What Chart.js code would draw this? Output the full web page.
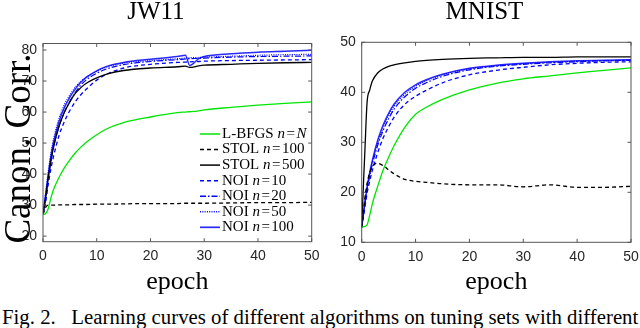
<!DOCTYPE html>
<html><head><meta charset="utf-8">
<script src="https://cdn.jsdelivr.net/npm/chart.js@4.4.1/dist/chart.umd.min.js"></script>
<style>
html,body{margin:0;padding:0;background:#fff;width:640px;height:328px;overflow:hidden;}
#c1{position:absolute;left:0;top:0;}
#c2{position:absolute;left:338px;top:0;}
#cap{position:absolute;left:2px;top:305.8px;white-space:nowrap;font-family:"Liberation Serif";font-size:20.8px;line-height:21px;color:#000;}
</style></head><body>
<canvas id="c1" width="320" height="300"></canvas>
<canvas id="c2" width="302" height="300"></canvas>
<div id="cap">Fig. 2.&nbsp;&nbsp;&nbsp;Learning curves of different algorithms on tuning sets with different</div>
<script>
// ---- data ----
const xTicks = [0, 10, 20, 30, 40, 50];
const jwYTicks = [20, 30, 40, 50, 60, 70, 80];
const mnYTicks = [10, 20, 30, 40, 50];

const legendNames = ['L-BFGS', 'STOL', 'STOL', 'NOI', 'NOI', 'NOI', 'NOI'];
const legendN = ['N', '100', '500', '10', '20', '50', '100'];

const jwEpochs = [0, 0.5, 1, 1.5, 2, 3, 4, 5, 6, 7, 8, 10, 12, 15, 20, 25, 26.5, 27.3, 29, 30, 35, 40, 45, 50];
const jwLbfgs  = [27, 27.3, 29, 32.5, 35.2, 39, 42.1, 44.6, 46.8, 48.6, 50.2, 52.7, 54.7, 56.6, 58.4, 59.8, 60.0, 60.1, 60.4, 60.7, 61.5, 62.2, 62.8, 63.3];
const jwStol100 = [27, 29.3, 30, 30, 30, 30.1, 30.1, 30.1, 30.2, 30.2, 30.2, 30.3, 30.3, 30.4, 30.5, 30.5, 30.6, 30.6, 30.6, 30.6, 30.7, 30.8, 30.8, 30.9];
const jwStol500 = [27, 32.5, 39, 44.5, 49, 55.5, 60, 63.3, 66, 67.8, 69.2, 71, 72.3, 73.4, 74.2, 74.6, 74.8, 74.4, 74.9, 75.1, 75.4, 75.7, 75.9, 76.0];
const jwNoi10  = [27, 31, 37, 42, 46, 52.5, 57, 60.5, 63.3, 65.5, 67.3, 70.3, 72.3, 74.2, 75.4, 76.0, 76.1, 76.2, 76.3, 76.4, 76.6, 76.7, 76.8, 76.9];
const jwNoi20  = [27, 32.5, 39, 44.5, 49, 55.5, 60, 63.5, 66.3, 68.6, 70.3, 72.5, 74, 75.3, 76.3, 76.9, 77.1, 77.2, 77.3, 77.4, 77.7, 77.9, 78.0, 78.1];
const jwNoi50  = [27, 34, 41, 47, 51.5, 58, 62.5, 65.5, 68, 69.8, 71.2, 73.2, 74.6, 75.8, 76.6, 77.2, 77.4, 77.5, 77.6, 77.7, 78.0, 78.3, 78.5, 78.6];
const jwNoi100 = [27, 33.5, 40, 46, 50.5, 57, 61.5, 64.8, 67.4, 69.5, 71.1, 73.3, 74.8, 76.0, 77.0, 77.9, 78.3, 75.0, 77.2, 77.9, 78.8, 79.3, 79.6, 79.9];

const mnEpochs = [0, 0.3, 0.6, 1, 1.5, 2, 3, 4, 5, 6, 8, 10, 12, 15, 20, 25, 30, 35, 40, 45, 50];
const mnLbfgs  = [13, 13.1, 13.2, 13.5, 15.5, 17.8, 21.3, 24.5, 27, 29.3, 33, 35.6, 37, 38.6, 40.5, 41.8, 42.7, 43.3, 43.9, 44.4, 44.9];
const mnStol100 = [13, 16, 19, 21.8, 24, 25.2, 25.8, 25.3, 24.5, 23.7, 22.6, 22.2, 22, 21.7, 21.5, 21.5, 21.1, 21.5, 21.0, 21.0, 21.2];
const mnStol500 = [13, 21, 28.5, 38, 40.5, 42.3, 43.9, 44.7, 45.2, 45.5, 45.9, 46.2, 46.4, 46.6, 46.8, 46.9, 47.0, 47.0, 47.1, 47.1, 47.1];
const mnNoi10  = [13, 15, 17, 19.8, 22.3, 24.5, 28, 30.9, 33.1, 35, 37.6, 39.2, 40.4, 41.9, 43.5, 44.4, 45.0, 45.5, 45.8, 46.0, 46.1];
const mnNoi20  = [13, 15.3, 17.7, 20.5, 23.3, 25.7, 29.5, 32.4, 34.7, 36.6, 39.1, 40.8, 41.9, 43.2, 44.5, 45.2, 45.6, 45.9, 46.1, 46.3, 46.4];
const mnNoi50  = [13, 15.5, 18, 21, 23.8, 26.2, 30, 33, 35.3, 37.2, 39.6, 41.2, 42.3, 43.5, 44.7, 45.3, 45.7, 46.0, 46.2, 46.3, 46.4];
const mnNoi100 = [13, 15.5, 18, 21, 24, 26.5, 30.5, 33.5, 35.8, 37.6, 40, 41.5, 42.5, 43.6, 44.8, 45.4, 45.8, 46.1, 46.3, 46.4, 46.5];

// ---- styles ----
const styles = [
  {color: '#00e600', dash: [], w: 1.3},
  {color: '#000000', dash: [4, 3], w: 1.3},
  {color: '#000000', dash: [], w: 1.3},
  {color: '#0000ff', dash: [4, 3], w: 1.3},
  {color: '#0000ff', dash: [6, 2, 1.5, 2], w: 1.2},
  {color: '#0000ff', dash: [1, 1.3], w: 1.2},
  {color: '#2a2aff', dash: [], w: 1.5}
];

function pts(xs, ys) { return xs.map((x, i) => ({x: x, y: ys[i]})); }
function makeDatasets(xs, series) {
  return series.map((ys, i) => ({
    label: legendNames[i] + ' n=' + legendN[i],
    data: pts(xs, ys),
    borderColor: styles[i].color,
    borderDash: styles[i].dash,
    borderWidth: styles[i].w,
    pointRadius: 0,
    fill: false,
    cubicInterpolationMode: 'monotone'
  }));
}

const SERIF = '"Liberation Serif", "Times New Roman", serif';
const SANS = '"Liberation Sans", Arial, sans-serif';

const framePlugin = {
  id: 'frame',
  afterDatasetsDraw(chart) {
    const {ctx, chartArea: a, scales: {x, y}} = chart;
    ctx.save();
    ctx.strokeStyle = '#555';
    ctx.lineWidth = 1;
    ctx.setLineDash([]);
    ctx.strokeRect(a.left, a.top, a.right - a.left, a.bottom - a.top);
    const tl = 3.5;
    ctx.beginPath();
    x.ticks.forEach(t => {
      const p = x.getPixelForValue(t.value);
      ctx.moveTo(p, a.bottom); ctx.lineTo(p, a.bottom - tl);
      ctx.moveTo(p, a.top); ctx.lineTo(p, a.top + tl);
    });
    y.ticks.forEach(t => {
      const p = y.getPixelForValue(t.value);
      ctx.moveTo(a.left, p); ctx.lineTo(a.left + tl, p);
      ctx.moveTo(a.right, p); ctx.lineTo(a.right - tl, p);
    });
    ctx.stroke();
    ctx.restore();
  }
};

const extrasPlugin = {
  id: 'extras',
  afterDraw(chart, args, o) {
    if (!o || !o.show) return;
    const ctx = chart.ctx;
    ctx.save();
    // y axis label
    ctx.translate(o.ylabX, o.ylabY);
    ctx.rotate(-Math.PI / 2);
    ctx.fillStyle = '#000';
    ctx.font = '37px ' + SERIF;
    ctx.textAlign = 'center';
    ctx.textBaseline = 'alphabetic';
    ctx.fillText('Canon. Corr.', 0, 0);
    ctx.restore();
    // legend
    ctx.save();
    chart.data.datasets.forEach((ds, i) => {
      const yy = o.legY0 + i * o.legDy;
      ctx.strokeStyle = ds.borderColor;
      ctx.lineWidth = ds.borderWidth + 0.2;
      ctx.setLineDash(ds.borderDash);
      ctx.beginPath();
      ctx.moveTo(o.legX0, yy); ctx.lineTo(o.legX1, yy);
      ctx.stroke();
      ctx.setLineDash([]);
      ctx.fillStyle = '#000';
      ctx.textBaseline = 'middle';
      ctx.textAlign = 'left';
      let tx = o.legTx;
      const roman = '15px ' + SERIF, ital = 'italic 15px ' + SERIF;
      ctx.font = roman;
      ctx.fillText(legendNames[i], tx, yy);
      tx += ctx.measureText(legendNames[i] + ' ').width;
      ctx.font = ital;
      ctx.fillText('n', tx, yy);
      tx += ctx.measureText('n').width + 1.5;
      ctx.font = roman;
      ctx.fillText('=', tx, yy);
      tx += ctx.measureText('=').width + 1.5;
      const v = legendN[i];
      ctx.font = (v === 'N') ? ital : roman;
      ctx.fillText(v, tx, yy);
    });
    ctx.restore();
  }
};

function makeOptions(title, yMin, yMax, yTicks, yWidth, padRight, titleGap, xHeight, extras) {
  return {
    responsive: false,
    animation: false,
    events: [],
    layout: {padding: {left: 0, right: padRight, top: 0, bottom: 0}},
    plugins: {
      legend: {display: false},
      tooltip: {enabled: false},
      title: {display: true, text: title, color: '#000',
        font: {family: SERIF, size: 25, weight: 'normal', lineHeight: 1.0},
        padding: {top: 0, bottom: titleGap}},
      extras: extras
    },
    scales: {
      x: {
        type: 'linear', min: 0, max: 50,
        grid: {display: false, drawTicks: false}, border: {display: false},
        ticks: {font: {family: SANS, size: 14}, color: '#262626', padding: 6, maxRotation: 0, autoSkip: false},
        afterBuildTicks: s => { s.ticks = xTicks.map(v => ({value: v})); },
        afterFit: s => { s.height = xHeight; s.paddingLeft = 0; s.paddingRight = 0; },
        title: {display: true, text: 'epoch', color: '#000',
          font: {family: SERIF, size: 26, lineHeight: 1.2}, padding: {top: 0, bottom: 2.4}}
      },
      y: {
        type: 'linear', min: yMin, max: yMax,
        grid: {display: false, drawTicks: false}, border: {display: false},
        ticks: {font: {family: SANS, size: 14}, color: '#262626', padding: 6},
        afterBuildTicks: s => { s.ticks = yTicks.map(v => ({value: v})); },
        afterFit: s => { s.width = yWidth; s.paddingTop = 0; s.paddingBottom = 0; }
      }
    }
  };
}

new Chart(document.getElementById('c1'), {
  type: 'line',
  data: {datasets: makeDatasets(jwEpochs, [jwLbfgs, jwStol100, jwStol500, jwNoi10, jwNoi20, jwNoi50, jwNoi100])},
  options: makeOptions('JW11', 18.2, 82.1, jwYTicks, 43, 8.3, 18.5, 58.3,
    {show: true, ylabX: 30, ylabY: 148.5, legX0: 200, legX1: 220, legTx: 222, legY0: 134, legDy: 15.55}),
  plugins: [framePlugin, extrasPlugin]
});

new Chart(document.getElementById('c2'), {
  type: 'line',
  data: {datasets: makeDatasets(mnEpochs, [mnLbfgs, mnStol100, mnStol500, mnNoi10, mnNoi20, mnNoi50, mnNoi100])},
  options: makeOptions('MNIST', 10, 50, mnYTicks, 23.7, 9, 17.3, 57.7, {show: false}),
  plugins: [framePlugin, extrasPlugin]
});
</script>
</body></html>
